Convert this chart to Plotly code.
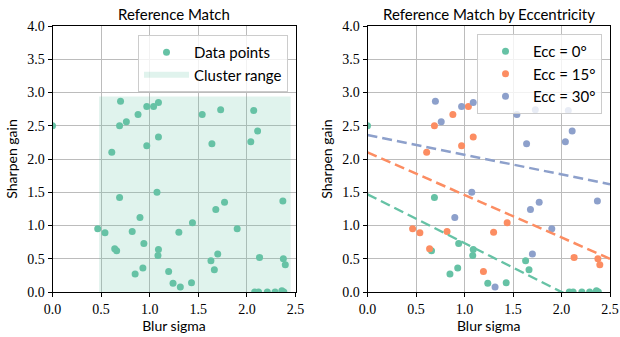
import plotly.graph_objects as go

# ---- data ----
ecc0_x = [0.0, 0.69, 0.66, 0.94, 1.09, 1.085, 0.85, 0.93, 1.24, 1.43, 1.63, 1.665,
          2.08, 2.12, 2.21, 2.29, 2.36, 2.38]
ecc0_y = [2.50, 1.42, 0.62, 0.73, 0.64, 0.55, 0.27, 0.36, 0.13, 0.14, 0.47, 0.335,
          0.0, 0.0, 0.0, 0.0, 0.02, 0.0]
ecc15_x = [0.69, 0.88, 1.04, 0.61, 0.97, 1.09, 0.465, 0.54, 0.82, 0.64, 1.195, 1.30,
           1.44, 2.13, 2.375, 2.395]
ecc15_y = [2.50, 2.67, 2.79, 2.10, 2.20, 2.33, 0.95, 0.89, 0.91, 0.65, 0.31, 0.90,
           1.04, 0.52, 0.50, 0.41]
ecc30_x = [0.70, 0.76, 0.97, 1.09, 1.54, 1.73, 1.64, 2.07, 2.11, 2.04, 1.075, 0.90,
           1.315, 1.68, 1.77, 1.70, 1.90, 2.37]
ecc30_y = [2.87, 2.56, 2.79, 2.85, 2.67, 2.74, 2.23, 2.73, 2.42, 2.26, 1.50, 1.12,
           0.075, 1.24, 1.35, 0.57, 0.95, 1.37]

# fitted trend lines (intercept, slope)
fit_intercepts = [1.47, 2.10, 2.36]
fit_slopes = [-0.735, -0.64, -0.296]

# cluster range rectangle
cluster_x = [0.48, 2.45]
cluster_y = [0.0, 2.94]

labels = ["Ecc = 0°", "Ecc = 15°", "Ecc = 30°"]
colors = ["#66c2a5", "#fc8d62", "#8da0cb"]
x_ticks = [0.0, 0.5, 1.0, 1.5, 2.0, 2.5]
y_ticks = [0.0, 0.5, 1.0, 1.5, 2.0, 2.5, 3.0, 3.5, 4.0]

all_x = ecc0_x + ecc15_x + ecc30_x
all_y = ecc0_y + ecc15_y + ecc30_y

SANS = "Lato"
SERIF = "Liberation Serif"

fig = go.Figure()

# ---- left panel ----
fig.add_trace(go.Scatter(
    x=[cluster_x[0], cluster_x[1], cluster_x[1], cluster_x[0], cluster_x[0]],
    y=[cluster_y[0], cluster_y[0], cluster_y[1], cluster_y[1], cluster_y[0]],
    fill="toself", fillcolor="rgba(102,194,165,0.2)", mode="none",
    name="Cluster range", xaxis="x", yaxis="y", legend="legend", legendrank=2))
fig.add_trace(go.Scatter(
    x=all_x, y=all_y, mode="markers", name="Data points",
    marker=dict(color=colors[0], size=7), xaxis="x", yaxis="y",
    legend="legend", legendrank=1))

# ---- right panel ----
groups = [(ecc0_x, ecc0_y), (ecc15_x, ecc15_y), (ecc30_x, ecc30_y)]
for i, (gx, gy) in enumerate(groups):
    fig.add_trace(go.Scatter(
        x=gx, y=gy, mode="markers", name=labels[i],
        marker=dict(color=colors[i], size=7), xaxis="x2", yaxis="y2",
        legend="legend2", legendrank=i + 1))
for i in range(3):
    xs = [x_ticks[0], x_ticks[-1]]
    ys = [fit_intercepts[i] + fit_slopes[i] * v for v in xs]
    fig.add_trace(go.Scatter(
        x=xs, y=ys, mode="lines", showlegend=False,
        line=dict(color=colors[i], width=2.5, dash="10px,5px"),
        xaxis="x2", yaxis="y2"))

W, H = 620, 337
def fx(px):
    return px / W
def fy(py):
    return 1 - py / H

ax_common = dict(
    showline=True, linecolor="black", linewidth=1, mirror=True,
    ticks="outside", ticklen=4, tickcolor="black", tickwidth=1,
    showgrid=True, gridcolor="#bcbcbc", gridwidth=1, zeroline=False,
    tickfont=dict(family=SERIF, size=14, color="black"),
    tickformat=".1f", automargin=False,
)
title_font = dict(family=SANS, size=14, color="black")
legend_common = dict(xanchor="right", yanchor="top", itemwidth=45,
                     bgcolor="rgba(255,255,255,0.8)", bordercolor="#cccccc", borderwidth=1,
                     font=dict(family=SANS, size=15, color="black"))

fig.update_layout(
    width=W, height=H, margin=dict(l=0, r=0, t=0, b=0, autoexpand=False),
    plot_bgcolor="white", paper_bgcolor="white",
    xaxis=dict(domain=[fx(52.5), fx(295.5)], range=[0, 2.5], tickvals=x_ticks,
               anchor="y", title=dict(text="Blur sigma", font=title_font, standoff=4),
               **ax_common),
    yaxis=dict(domain=[fy(292), fy(26)], range=[0, 4], tickvals=y_ticks,
               anchor="x", title=dict(text="Sharpen gain", font=title_font, standoff=6),
               **ax_common),
    xaxis2=dict(domain=[fx(367.5), fx(610)], range=[0, 2.5], tickvals=x_ticks,
                anchor="y2", title=dict(text="Blur sigma", font=title_font, standoff=4),
                **ax_common),
    yaxis2=dict(domain=[fy(292), fy(26)], range=[0, 4], tickvals=y_ticks,
                anchor="x2", title=dict(text="Sharpen gain", font=title_font, standoff=6),
                **ax_common),
    legend=dict(x=fx(288), y=fy(35), **legend_common),
    legend2=dict(x=fx(602), y=fy(34), **legend_common),
    annotations=[
        dict(text="Reference Match", x=fx(174), y=fy(14), xref="paper", yref="paper",
             showarrow=False, xanchor="center", yanchor="middle",
             font=dict(family=SANS, size=15, color="black")),
        dict(text="Reference Match by Eccentricity", x=fx(489), y=fy(14), xref="paper", yref="paper",
             showarrow=False, xanchor="center", yanchor="middle",
             font=dict(family=SANS, size=15, color="black")),
    ],
)

fig.write_html("out.html")
